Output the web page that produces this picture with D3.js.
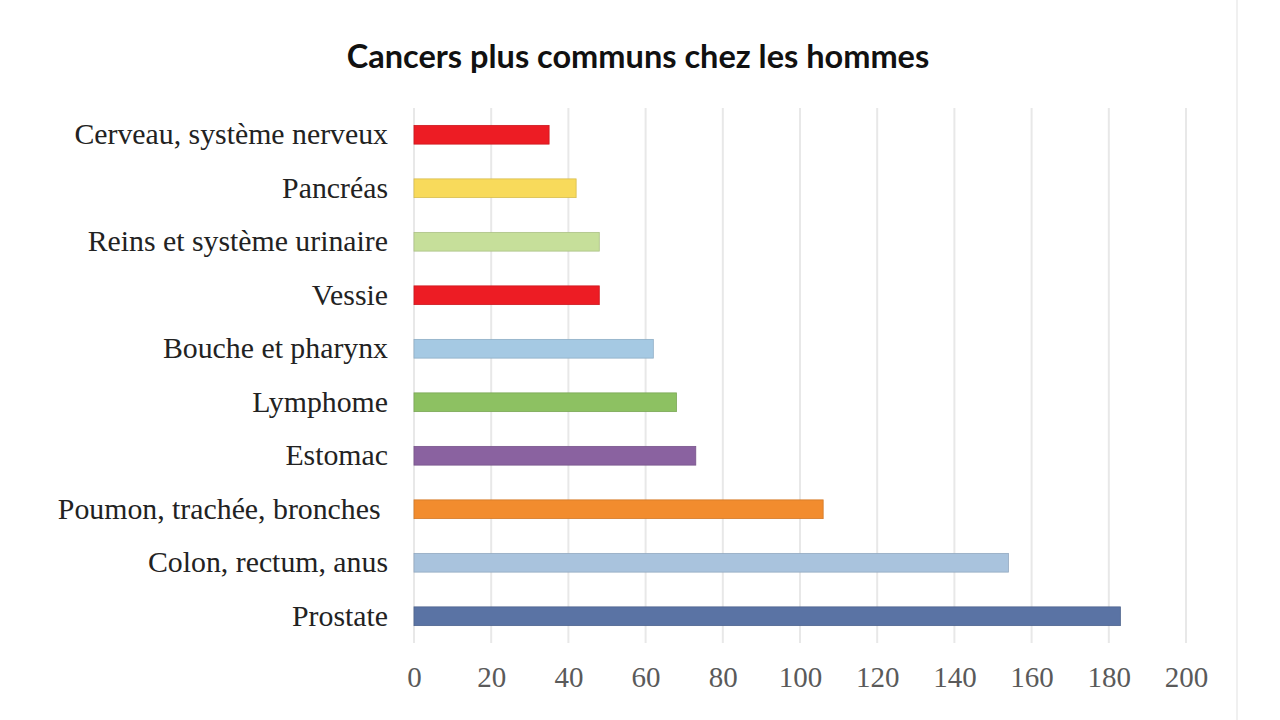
<!DOCTYPE html>
<html>
<head>
<meta charset="utf-8">
<script src="https://cdn.jsdelivr.net/npm/d3@7"></script>
<style>
	body { margin: 0; background: #fff; }
	svg { display: block; }
</style>
</head>
<body>
<div id="chart"></div>
<script>
	var categories = ['Cerveau, système nerveux', 'Pancréas', 'Reins et système urinaire', 'Vessie',
		'Bouche et pharynx', 'Lymphome', 'Estomac', 'Poumon, trachée, bronches ', 'Colon, rectum, anus', 'Prostate'];
	var values = [35, 42, 48, 48, 62, 68, 73, 106, 154, 183];
	var barColors = ['#ed1c24', '#f8da5b', '#c6df9a', '#ed1c24', '#a5c9e3', '#8dc162', '#8a62a0', '#f28c2e', '#a9c3dd', '#5a73a4'];
	var tickValues = [0, 20, 40, 60, 80, 100, 120, 140, 160, 180, 200];

	var width = 1280,
		height = 720;

	var svg = d3.select('#chart').append('svg')
		.attr('width', width)
		.attr('height', height);

	var xScale = d3.scaleLinear()
		.domain([0, 200])
		.range([414, 1186]);

	var yScale = d3.scaleBand()
		.domain(categories)
		.range([108, 643])
		.paddingInner(0.65)
		.paddingOuter(0.325);

	// chart frame edge
	svg.append('line')
		.attr('x1', 1237).attr('x2', 1237)
		.attr('y1', 0).attr('y2', height)
		.style('stroke', '#f0f0f0')
		.style('stroke-width', 2);

	svg.append('text')
		.attr('x', 638)
		.attr('y', 68)
		.attr('text-anchor', 'middle')
		.style('font-family', 'Lato, sans-serif')
		.style('font-weight', 'bold')
		.style('font-size', '32.5px')
		.style('fill', '#111')
		.text('Cancers plus communs chez les hommes');

	// gridlines
	svg.append('g')
		.selectAll('line').data(tickValues)
		.enter().append('line')
		.attr('x1', function (d) { return xScale(d); })
		.attr('x2', function (d) { return xScale(d); })
		.attr('y1', 108)
		.attr('y2', 643)
		.style('stroke', '#e8e8e8')
		.style('stroke-width', 2);

	svg.append('g')
		.selectAll('rect').data(values)
		.enter().append('rect')
		.attr('x', xScale(0))
		.attr('y', function (d, i) { return yScale(categories[i]); })
		.attr('width', function (d) { return xScale(d) - xScale(0); })
		.attr('height', yScale.bandwidth())
		.style('fill', function (d, i) { return barColors[i]; })
		.style('stroke', function (d, i) { return d3.color(barColors[i]).darker(0.4); })
		.style('stroke-width', 0.8);

	// category labels
	var yAxis = d3.axisLeft(yScale).tickSize(0).tickPadding(0);
	var gy = svg.append('g')
		.attr('transform', 'translate(388,0)')
		.call(yAxis);
	gy.select('.domain').remove();
	gy.selectAll('text')
		.style('font-family', '"Liberation Serif", serif')
		.style('font-size', '29.8px')
		.style('fill', '#222')
		.style('white-space', 'pre');

	var xAxis = d3.axisBottom(xScale).tickValues(tickValues).tickSize(0).tickPadding(0);
	var gx = svg.append('g')
		.attr('transform', 'translate(0,666)')
		.call(xAxis);
	gx.select('.domain').remove();
	gx.selectAll('text')
		.style('font-family', '"Liberation Serif", serif')
		.style('font-size', '29px')
		.style('fill', '#5a5a5a');
</script>
</body>
</html>
